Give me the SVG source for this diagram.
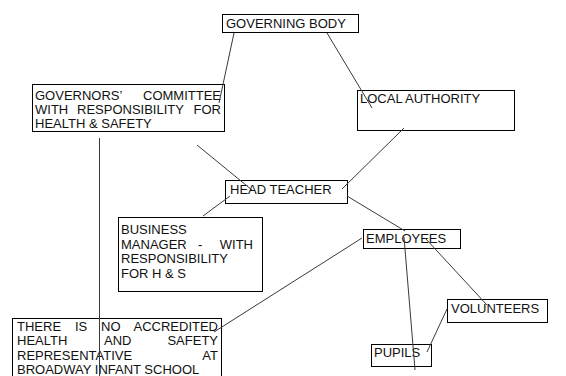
<svg xmlns="http://www.w3.org/2000/svg" width="566" height="376" viewBox="0 0 566 376">
<style>
.box{fill:#fff;stroke:#000;stroke-width:1}
.t{font-family:"Liberation Sans",Arial,sans-serif;font-size:13px;fill:#111}
.e{text-anchor:end}
.c line{stroke:#3a3a3a;stroke-width:1}
</style>
<rect width="566" height="376" fill="#fff"/>
<g id="governing-body">
<rect class="box" x="222.5" y="14.5" width="136" height="18"/>
<text class="t" x="226" y="28">GOVERNING BODY</text>
</g>
<g id="committee">
<rect class="box" x="32.5" y="84.5" width="192" height="47"/>
<text class="t" x="35" y="100">GOVERNORS’</text>
<text class="t e" x="221" y="100">COMMITTEE</text>
<text class="t" x="35" y="114">WITH</text>
<text class="t" x="77" y="114">RESPONSIBILITY</text>
<text class="t e" x="221" y="114">FOR</text>
<text class="t" x="35" y="128">HEALTH &amp; SAFETY</text>
</g>
<g id="local-authority">
<rect class="box" x="357.5" y="90.5" width="157" height="40"/>
<text class="t" x="360" y="103">LOCAL AUTHORITY</text>
</g>
<g id="head-teacher">
<rect class="box" x="225.5" y="180.5" width="122" height="23"/>
<text class="t" x="230" y="194">HEAD TEACHER</text>
</g>
<g id="business-manager">
<rect class="box" x="118.5" y="217.5" width="144" height="74"/>
<text class="t" x="121" y="234">BUSINESS</text>
<text class="t" x="121" y="248.5">MANAGER</text>
<text class="t" x="198" y="248.5">-</text>
<text class="t e" x="253" y="248.5">WITH</text>
<text class="t" x="121" y="263">RESPONSIBILITY</text>
<text class="t" x="121" y="277.5">FOR H &amp; S</text>
</g>
<g id="employees">
<rect class="box" x="363.5" y="229.5" width="97" height="19"/>
<text class="t" x="366" y="243">EMPLOYEES</text>
</g>
<g id="volunteers">
<rect class="box" x="447.5" y="299.5" width="100" height="23"/>
<text class="t" x="451" y="313">VOLUNTEERS</text>
</g>
<g id="pupils">
<rect class="box" x="371.5" y="344.5" width="60" height="22"/>
<text class="t" x="374" y="357">PUPILS</text>
</g>
<g id="no-rep">
<rect class="box" x="12.5" y="318.5" width="209" height="70"/>
<text class="t" x="17" y="331">THERE</text>
<text class="t" x="75" y="331">IS</text>
<text class="t" x="101" y="331">NO</text>
<text class="t e" x="218" y="331">ACCREDITED</text>
<text class="t" x="17" y="345">HEALTH</text>
<text class="t" x="104" y="345">AND</text>
<text class="t e" x="218" y="345">SAFETY</text>
<text class="t" x="17" y="359.5">REPRESENTATIVE</text>
<text class="t e" x="218" y="359.5">AT</text>
<text class="t" x="17" y="374">BROADWAY INFANT SCHOOL</text>
</g>
<g id="connectors" class="c">
<line x1="234" y1="33" x2="219" y2="103"/>
<line x1="327" y1="33" x2="372" y2="108"/>
<line x1="404" y1="128" x2="342" y2="189"/>
<line x1="197" y1="145" x2="252" y2="190"/>
<line x1="99.5" y1="138" x2="99.5" y2="376"/>
<line x1="230" y1="196" x2="203" y2="216"/>
<line x1="347" y1="196" x2="405" y2="231"/>
<line x1="362" y1="238" x2="214" y2="332"/>
<line x1="404" y1="237" x2="415" y2="370"/>
<line x1="425" y1="238" x2="487" y2="305"/>
<line x1="447" y1="309" x2="427" y2="352"/>
</g>
</svg>
